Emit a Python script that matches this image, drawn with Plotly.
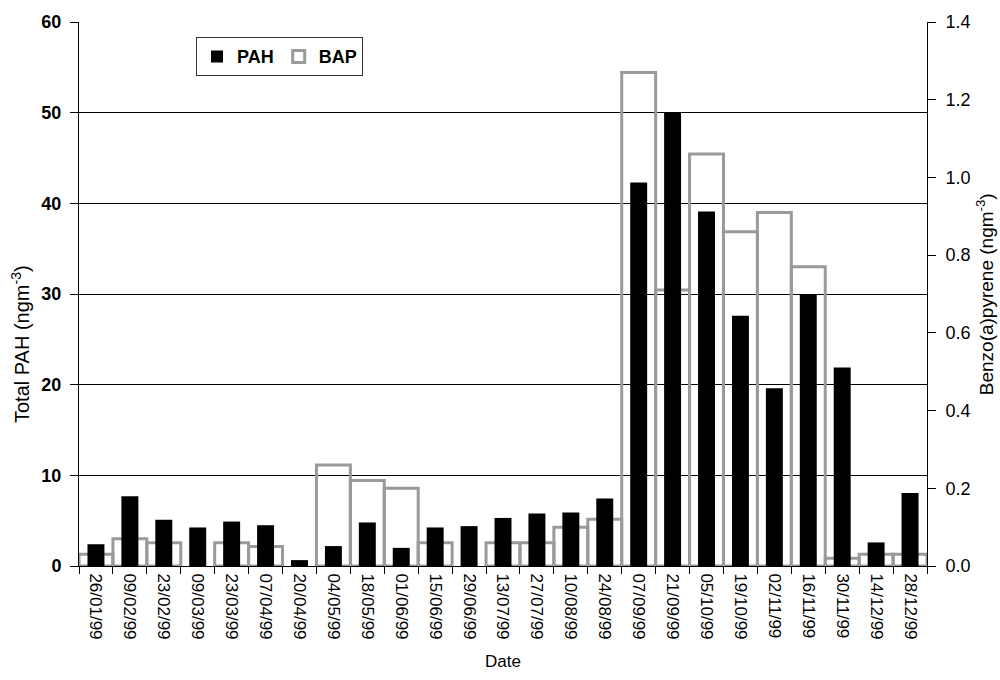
import plotly.graph_objects as go

dates = ["26/01/99", "09/02/99", "23/02/99", "09/03/99", "23/03/99", "07/04/99",
         "20/04/99", "04/05/99", "18/05/99", "01/06/99", "15/06/99", "29/06/99",
         "13/07/99", "27/07/99", "10/08/99", "24/08/99", "07/09/99", "21/09/99",
         "05/10/99", "19/10/99", "02/11/99", "16/11/99", "30/11/99", "14/12/99",
         "28/12/99"]

# Total PAH (ng m-3), left axis
pah = [2.4, 7.7, 5.1, 4.25, 4.9, 4.5, 0.65, 2.2, 4.8, 2.0, 4.25, 4.4,
       5.3, 5.8, 5.9, 7.45, 42.3, 50.0, 39.1, 27.6, 19.6, 30.0, 21.9, 2.6, 8.05]

# Benzo(a)pyrene (ng m-3), right axis; None where no value was reported
bap = [0.03, 0.07, 0.06, None, 0.06, 0.05, None, 0.26, 0.22, 0.20, 0.06, None,
       0.06, 0.06, 0.10, 0.12, 1.27, 0.71, 1.06, 0.86, 0.91, 0.77, 0.02, 0.03, 0.03]

FONT = "Liberation Sans, Arial, sans-serif"
GREY = "#9a9a9a"

fig = go.Figure()

# BAP as open grey boxes on the base subplot (drawn underneath)
fig.add_trace(go.Bar(
    x=dates, y=bap, name="BAP", yaxis="y", width=1.0,
    marker=dict(color="rgba(0,0,0,0)", line=dict(color=GREY, width=3)),
    legendrank=2,
))

# PAH as solid black bars on the overlaying subplot (drawn on top)
fig.add_trace(go.Bar(
    x=dates, y=pah, name="PAH", yaxis="y2", width=0.5,
    marker=dict(color="#000000", line=dict(width=0)),
    legendrank=1,
))

# y-axis titles placed as rotated annotations in the side margins
fig.add_annotation(
    text="Total PAH (ngm<sup>-3</sup>)", textangle=-90,
    xref="paper", yref="paper", x=-0.069, y=0.26, xanchor="center", yanchor="bottom",
    showarrow=False, font=dict(family=FONT, size=20, color="black"),
)
fig.add_annotation(
    text="Benzo(a)pyrene (ngm<sup>-3</sup>)", textangle=-90,
    xref="paper", yref="paper", x=1.084, y=0.5, xanchor="right", yanchor="middle",
    showarrow=False, borderpad=0, font=dict(family=FONT, size=19, color="black"),
)

fig.update_layout(
    width=1000, height=680,
    margin=dict(l=79, r=73, t=22, b=114),
    paper_bgcolor="white", plot_bgcolor="white",
    font=dict(family=FONT, color="black", size=17),
    showlegend=True,
    legend=dict(
        orientation="h", x=0.138, y=0.972, xanchor="left", yanchor="top",
        bordercolor="#333333", borderwidth=1, bgcolor="white",
        font=dict(family=FONT, size=18, color="black", weight="bold"),
        itemwidth=30, tracegroupgap=0,
    ),
    xaxis=dict(
        type="category", tickangle=90, tickson="boundaries",
        ticks="outside", ticklen=7, tickcolor="black",
        showline=True, linecolor="black", linewidth=1,
        tickfont=dict(family=FONT, size=17), ticklabelstandoff=3,
        title=dict(text="Date", font=dict(family=FONT, size=17), standoff=16),
        showgrid=False, range=[-0.5, 24.5],
    ),
    yaxis=dict(
        side="right", range=[0, 1.4], dtick=0.2, tickformat=".1f",
        ticks="outside", ticklen=8, tickcolor="black",
        showline=True, linecolor="black", linewidth=1,
        showgrid=False, zeroline=False,
        tickfont=dict(family=FONT, size=18), ticklabelstandoff=6,
    ),
    yaxis2=dict(
        side="left", overlaying="y", range=[0, 60], dtick=10,
        ticks="outside", ticklen=8, tickcolor="black",
        showline=True, linecolor="black", linewidth=1,
        showgrid=True, gridcolor="black", gridwidth=1, zeroline=False,
        tickfont=dict(family=FONT, size=18, weight="bold"), ticklabelstandoff=5,
    ),
)

fig.write_html("out.html")
